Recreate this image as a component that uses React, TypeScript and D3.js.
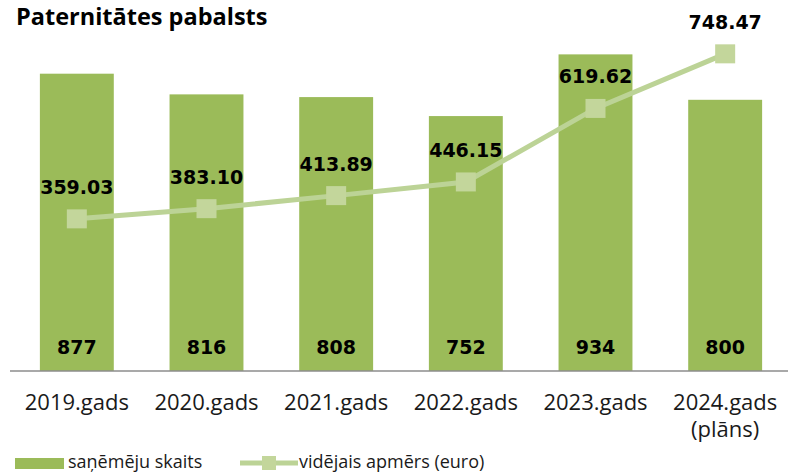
import React from "react";
import * as d3 from "d3";

const years = ["2019.gads", "2020.gads", "2021.gads", "2022.gads", "2023.gads", "2024.gads"];
const yearNotes = ["", "", "", "", "", "(plāns)"];
const recipients = [877, 816, 808, 752, 934, 800];
const avgAmount = [359.03, 383.1, 413.89, 446.15, 619.62, 748.47];

const W = 788;
const H = 472;
const barColor = "#9bbb59";
const lineColor = "#bcd396";
const markerColor = "#c3d69b";

export default function App() {
  const x = d3.scaleBand().domain(years).range([12, 790]);
  const yBar = d3.scaleLinear().domain([0, 1000]).range([371, 32]);
  const yLine = d3.scaleLinear().domain([0, 800]).range([371, 32]);
  const bw = x.bandwidth() * 0.57;
  const cx = (d: string) => (x(d) as number) + x.bandwidth() / 2;

  const line = d3
    .line<number>()
    .x((d, i) => cx(years[i]))
    .y(d => yLine(d));

  const boldFont = "'DejaVu Sans', Verdana, sans-serif";
  const labelFont = "'Open Sans', sans-serif";

  return (
    <svg
      width={W}
      height={H}
      style={{ position: "absolute", left: 0, top: 0, background: "#fff" }}
    >
      <text x={16} y={25} fontFamily={labelFont} fontWeight="bold" fontSize={23.5}>
        Paternitātes pabalsts
      </text>

      {years.map((d, i) => (
        <rect
          key={d}
          x={cx(d) - bw / 2}
          y={yBar(recipients[i])}
          width={bw}
          height={yBar(0) - yBar(recipients[i])}
          fill={barColor}
        />
      ))}

      <line x1={10} x2={788} y1={yBar(0)} y2={yBar(0)} stroke="#8c8c8c" strokeWidth={1.5} />

      {years.map((d, i) => (
        <text
          key={d}
          x={cx(d)}
          y={354}
          textAnchor="middle"
          fontFamily={boldFont}
          fontWeight="bold"
          fontSize={19}
          fill="#000"
        >
          {recipients[i]}
        </text>
      ))}

      <path d={line(avgAmount) || ""} fill="none" stroke={lineColor} strokeWidth={5} />
      {avgAmount.map((v, i) => (
        <rect
          key={i}
          x={cx(years[i]) - 10}
          y={yLine(v) - 9.5}
          width={20}
          height={19}
          fill={markerColor}
        />
      ))}
      {avgAmount.map((v, i) => (
        <text
          key={i}
          x={cx(years[i])}
          y={yLine(v) - 25}
          textAnchor="middle"
          fontFamily={boldFont}
          fontWeight="bold"
          fontSize={19}
          fill="#000"
        >
          {v.toFixed(2)}
        </text>
      ))}

      {years.map((d, i) => (
        <g key={d}>
          <text
            x={cx(d)}
            y={410}
            textAnchor="middle"
            fontFamily={labelFont}
            fontSize={22}
            fill="#1a1a1a"
          >
            {d}
          </text>
          {yearNotes[i] && (
            <text
              x={cx(d)}
              y={437}
              textAnchor="middle"
              fontFamily={labelFont}
              fontSize={22}
              fill="#1a1a1a"
            >
              {yearNotes[i]}
            </text>
          )}
        </g>
      ))}

      <g>
        <rect x={15} y={458} width={49} height={11} fill={barColor} />
        <text x={68} y={468} fontFamily={labelFont} fontSize={18} fill="#1a1a1a">
          saņēmēju skaits
        </text>
        <line x1={240} x2={298} y1={463} y2={463} stroke={lineColor} strokeWidth={5} />
        <rect x={262} y={456} width={14} height={14} fill={markerColor} />
        <text x={299} y={468} fontFamily={labelFont} fontSize={18} fill="#1a1a1a">
          vidējais apmērs (euro)
        </text>
      </g>
    </svg>
  );
}
